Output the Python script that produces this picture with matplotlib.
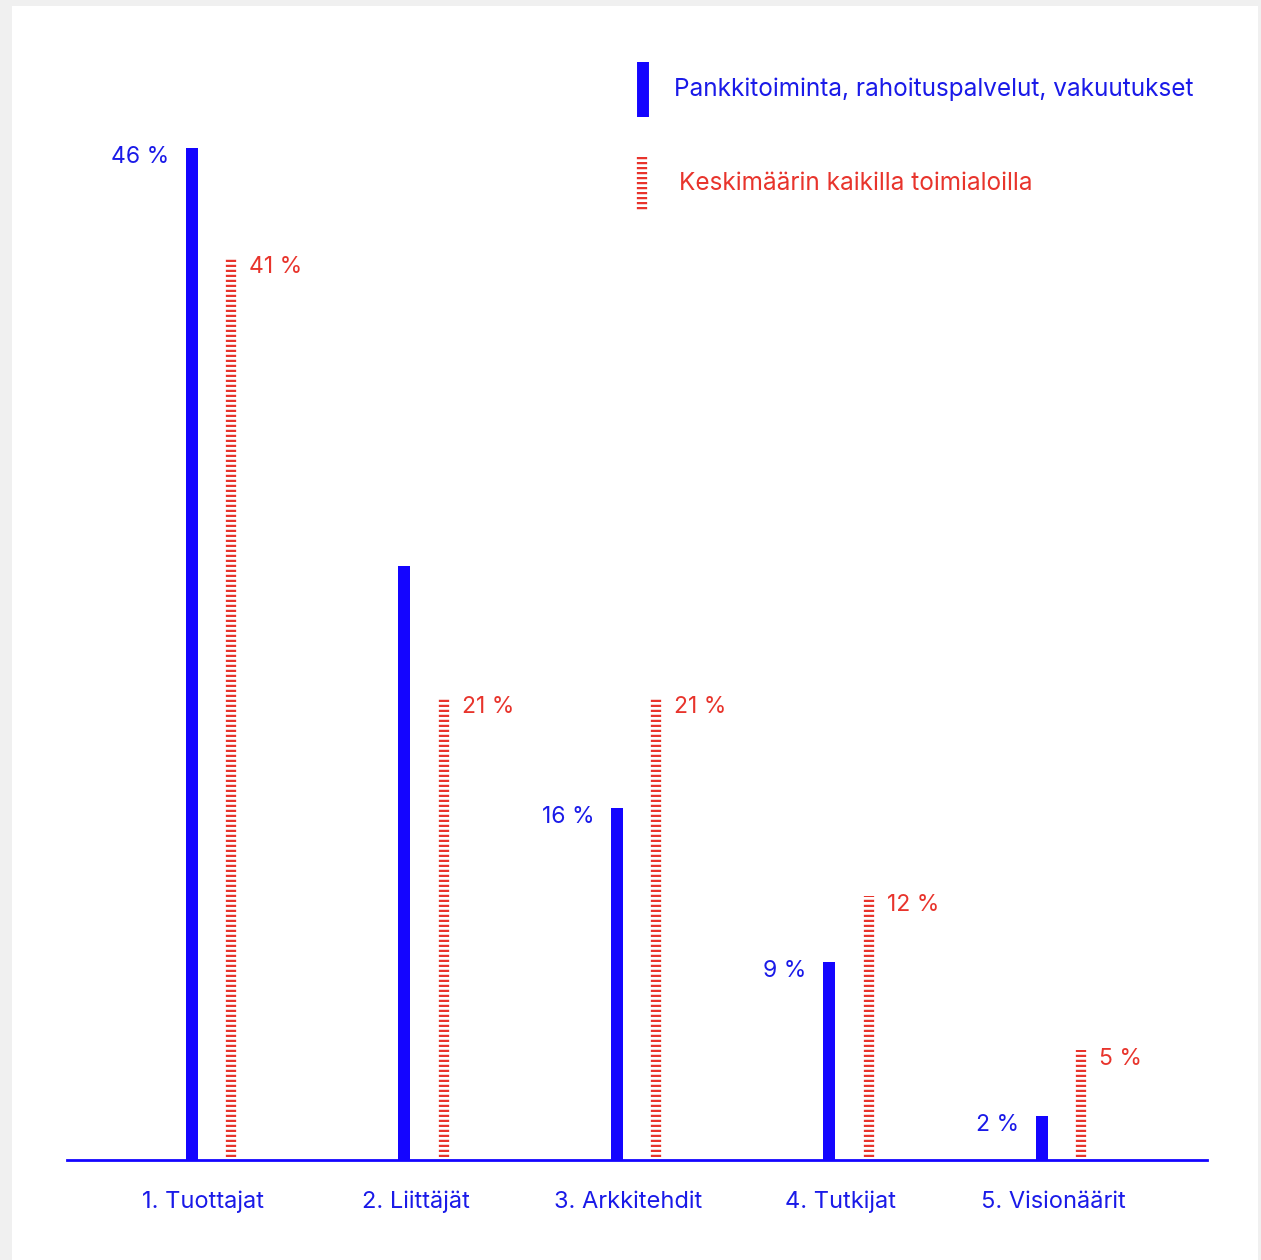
import matplotlib.pyplot as plt
from matplotlib.patches import Rectangle
from matplotlib.lines import Line2D
import numpy as np

plt.rcParams['font.family'] = ['Inter', 'DejaVu Sans']
plt.rcParams['lines.scale_dashes'] = False

# Data
categories = ['1. Tuottajat', '2. Liittäjät', '3. Arkkitehdit', '4. Tutkijat', '5. Visionäärit']
sector_values = [46, 27, 16, 9, 2]      # banking, finance, insurance
average_values = [41, 21, 21, 12, 5]    # average over all industries
sector_labels = ['46 %', None, '16 %', '9 %', '2 %']
average_labels = ['41 %', '21 %', '21 %', '12 %', '5 %']
legend_labels = ['Pankkitoiminta, rahoituspalvelut, vakuutukset',
                 'Keskimäärin kaikilla toimialoilla']

BLUE = '#1405ff'
BLUE_TEXT = '#1a1ae8'
RED = '#e8342c'
DASH = (0, (1.6, 2.0))

W, H = 1261, 1260
fig = plt.figure(figsize=(W / 100, H / 100), dpi=100, facecolor='#f0f0f0')
fig.add_artist(Rectangle((12 / W, 0), 1246 / W, 1254 / H, transform=fig.transFigure,
                         facecolor='white', edgecolor='none', zorder=0))

ax = fig.add_axes([67 / W, 100 / H, 1140 / W, 1100 / H])
ax.set_facecolor('none')
x = np.arange(len(categories))
off = 0.092

ax.bar(x - off, sector_values, width=0.056, color=BLUE, zorder=3)
ax.vlines(x + off, 0.15, average_values, colors=RED, linewidth=7.4, linestyles=[DASH], zorder=3)

for xi, v, lab in zip(x, sector_values, sector_labels):
    if lab:
        ax.annotate(lab, (xi - off - 0.028, v), xytext=(-12, 1.5), textcoords='offset points',
                    ha='right', va='top', color=BLUE_TEXT, fontsize=16.5)
for xi, v, lab in zip(x, average_values, average_labels):
    ax.annotate(lab, (xi + off, v), xytext=(13, 1.5), textcoords='offset points',
                ha='left', va='top', color=RED, fontsize=16.5)

ax.set_xlim(-0.68, 4.685)
ax.set_ylim(0, 50)
for s in ['top', 'right', 'left']:
    ax.spines[s].set_visible(False)
ax.spines['bottom'].set_color(BLUE)
ax.spines['bottom'].set_linewidth(2)
ax.set_yticks([])
ax.set_xticks(x - 0.04)
ax.set_xticklabels(categories, fontsize=17, color=BLUE_TEXT)
ax.tick_params(axis='x', length=0, pad=22)

# Legend drawn by hand in figure coordinates
fig.add_artist(Line2D([643 / W, 643 / W], [1 - 62 / H, 1 - 117 / H], transform=fig.transFigure,
                      color=BLUE, linewidth=8.6, solid_capstyle='butt'))
fig.add_artist(Line2D([642 / W, 642 / W], [1 - 157 / H, 1 - 211 / H], transform=fig.transFigure,
                      color=RED, linewidth=7.4, linestyle=DASH))
fig.text(674 / W, 1 - 89 / H, legend_labels[0], color=BLUE_TEXT, fontsize=17.5, va='center')
fig.text(679 / W, 1 - 184 / H, legend_labels[1], color=RED, fontsize=17.5, va='center')

fig.savefig('out.png', dpi=100, facecolor=fig.get_facecolor())
